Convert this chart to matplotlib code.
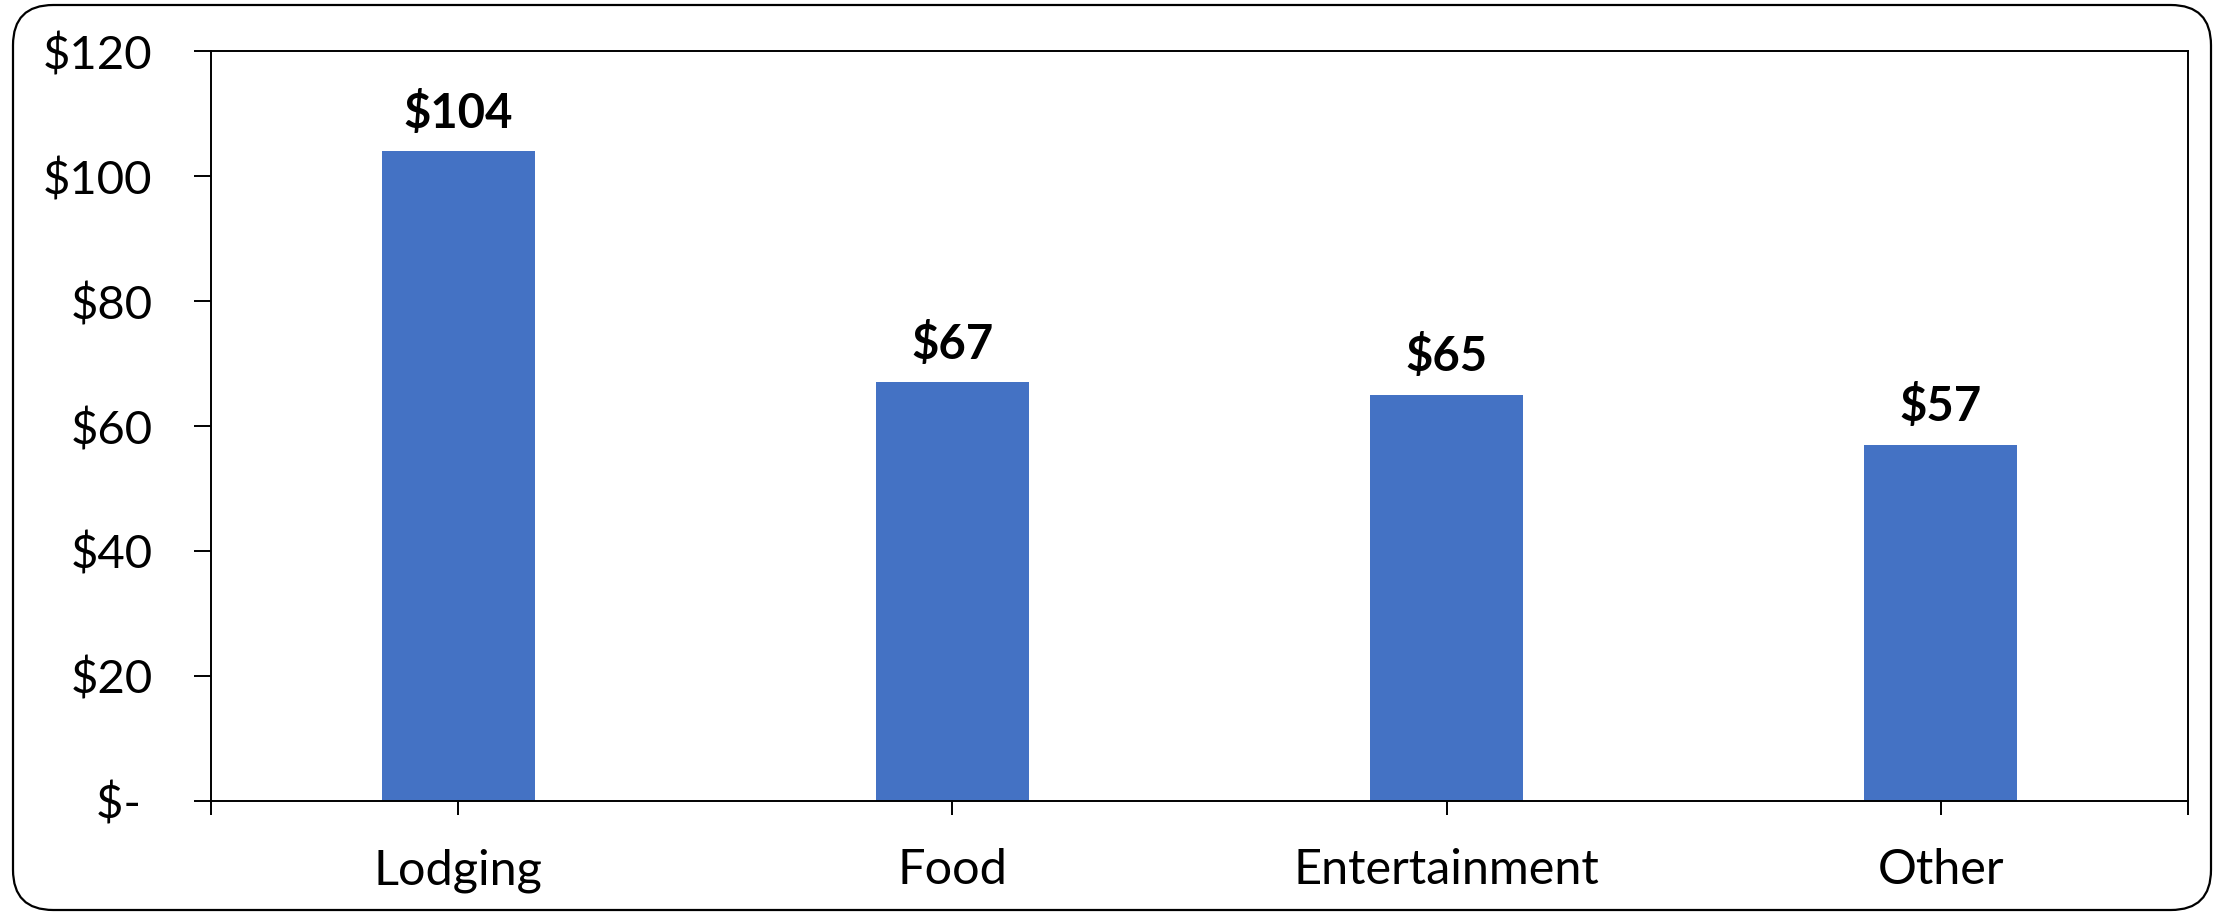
import matplotlib as mpl
import matplotlib.pyplot as plt
from matplotlib.patches import FancyBboxPatch
from matplotlib.ticker import FixedLocator

categories = ["Lodging", "Food", "Entertainment", "Other"]
spend = [104, 67, 65, 57]
y_ticks = [0, 20, 40, 60, 80, 100, 120]
y_tick_labels = ["$- ", "$20", "$40", "$60", "$80", "$100", "$120"]

BAR = "#4472C4"
INK = "#000000"

mpl.rcParams.update({
    "font.family": ["Lato", "DejaVu Sans"],
    "axes.linewidth": 1.4,
    "axes.edgecolor": INK,
    "xtick.color": INK,
    "ytick.color": INK,
})

fig = plt.figure(figsize=(22.33, 9.13), dpi=100)
ax = fig.add_axes([0.0945, 0.1227, 0.8853, 0.8214])

xs = range(len(categories))
bars = ax.bar(xs, spend, width=0.31, color=BAR, zorder=2)
for rect, value in zip(bars, spend):
    ax.annotate(f"${value}", (rect.get_x() + rect.get_width() / 2, value),
                xytext=(0, 11), textcoords="offset points",
                ha="center", va="bottom", fontsize=34, fontweight="bold")

ax.set_xlim(-0.5, 3.5)
ax.set_ylim(0, 120)
ax.set_yticks(y_ticks)
ax.set_yticklabels(y_tick_labels, fontsize=34)
ax.set_xticks(list(xs))
ax.set_xticklabels(categories, fontsize=35)
ax.xaxis.set_minor_locator(FixedLocator([-0.5, 3.5]))
ax.tick_params(axis="y", length=12, width=1.4, pad=30)
ax.tick_params(axis="x", which="both", length=10, width=1.4, pad=24)

fig.patches.append(FancyBboxPatch(
    (13 / 2233, 3 / 913), 2198 / 2233, 905 / 913,
    boxstyle="round,pad=0,rounding_size=0.018",
    transform=fig.transFigure, fill=False, edgecolor=INK, linewidth=1.6,
    mutation_aspect=2233 / 913,
))

fig.savefig("out.png", dpi=100)
